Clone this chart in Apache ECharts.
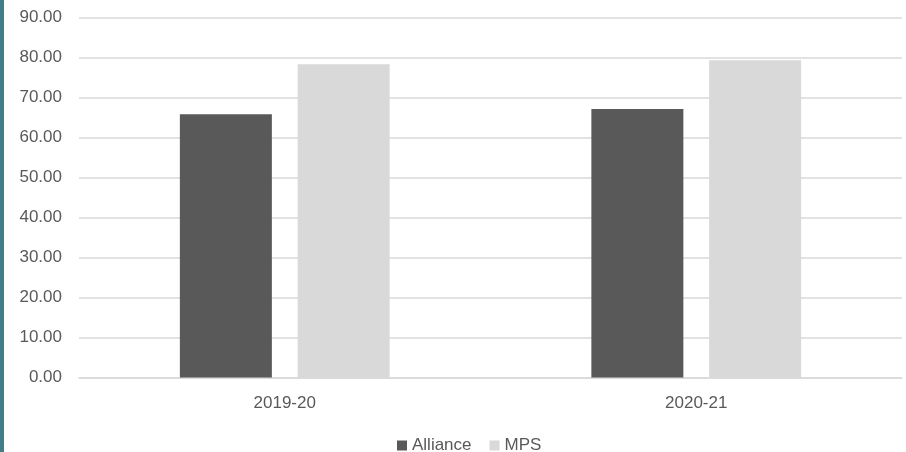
<!DOCTYPE html>
<html>
<head>
<meta charset="utf-8">
<script src="https://cdn.jsdelivr.net/npm/echarts@6/dist/echarts.min.js"></script>
<style>
html,body{margin:0;padding:0;background:#fff;}
#chart{width:906px;height:452px;}
</style>
</head>
<body>
<div id="chart"></div>
<script>
const categories = ['2019-20', '2020-21'];
const allianceValues = [65.8, 67.1];
const mpsValues = [78.3, 79.3];
const seriesNames = ['Alliance', 'MPS'];

const chart = echarts.init(document.getElementById('chart'), null, {renderer: 'canvas'});
const font = 'Liberation Sans';
chart.setOption({
  animation: false,
  backgroundColor: '#ffffff',
  graphic: [{
    type: 'rect', left: 0, top: 0, z: 100,
    shape: {width: 4, height: 452},
    style: {fill: '#437d85'}
  }],
  legend: {
    data: seriesNames,
    left: 397, top: 437,
    itemWidth: 10, itemHeight: 10, itemGap: 18,
    icon: 'rect',
    textStyle: {color: '#595959', fontSize: 17, fontFamily: font, padding: [0,0,0,0]},
    padding: 0
  },
  grid: {left: 79, right: 4, top: 17.5, bottom: 74.5, containLabel: false},
  xAxis: {
    type: 'category',
    data: categories,
    axisLine: {show: true, lineStyle: {color: '#d9d9d9', width: 1.5}},
    axisTick: {show: false},
    axisLabel: {color: '#595959', fontSize: 17, fontFamily: font, margin: 17}
  },
  yAxis: {
    type: 'value',
    min: 0, max: 90, interval: 10,
    axisLine: {show: false},
    axisTick: {show: false},
    splitLine: {lineStyle: {color: '#d9d9d9', width: 1.5}},
    axisLabel: {color: '#595959', fontSize: 17, fontFamily: font, margin: 17,
      formatter: v => v.toFixed(2)}
  },
  series: [
    {name: seriesNames[0], type: 'bar', data: allianceValues, barWidth: 92, barGap: '28%',
     itemStyle: {color: '#595959'}},
    {name: seriesNames[1], type: 'bar', data: mpsValues, barWidth: 92,
     itemStyle: {color: '#d9d9d9'}}
  ]
});
</script>
</body>
</html>
